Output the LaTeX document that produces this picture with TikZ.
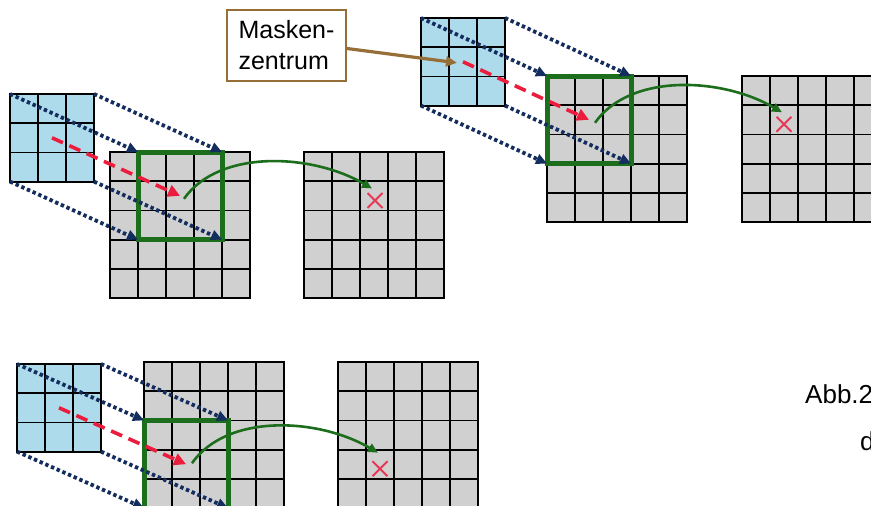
\documentclass[tikz,border=0pt]{standalone}
\usepackage{fontspec}
\newfontfamily\labelfont{Liberation Sans}
\usetikzlibrary{arrows.meta,calc,shapes.misc}

\definecolor{maskblue}{RGB}{173,219,235}
\definecolor{cellgray}{RGB}{208,208,208}
\definecolor{wingreen}{RGB}{28,110,28}
\definecolor{dotnavy}{RGB}{20,45,95}
\definecolor{centerred}{RGB}{236,28,60}
\definecolor{crossred}{RGB}{232,55,85}
\definecolor{labelbrown}{RGB}{150,110,55}

\tikzset{
  gridbox/.style={draw=black, line width=1.8pt, rectangle, inner sep=0pt, outer sep=0pt, anchor=north west},
  gridline/.style={black, line width=1.8pt},
  window/.style={draw=wingreen, line width=5pt, rectangle, inner sep=0pt, outer sep=0pt,
    anchor=north west, minimum width=84pt, minimum height=87.6pt},
  projection/.style={dotnavy, line width=3.8pt, dash pattern=on 3.4pt off 2.8pt,
    -{Triangle[length=11pt,width=10pt]}},
  centerline/.style={centerred, line width=3.6pt, dash pattern=on 12pt off 7pt,
    -{Triangle[length=12pt,width=12pt]}},
  resultarrow/.style={wingreen, line width=2.6pt, -{Triangle[length=10pt,width=9pt]}},
  resultmark/.style={cross out, draw=crossred, line width=2pt, minimum size=13pt, inner sep=0pt},
  labelbox/.style={draw=labelbrown, line width=1.8pt, fill=white, align=left, inner sep=0pt,
    minimum width=119pt, minimum height=71pt, font=\labelfont\fontsize{25}{31}\selectfont},
  pointer/.style={labelbrown, line width=3.2pt, -{Triangle[length=11pt,width=10pt]}},
  caption/.style={font=\labelfont\fontsize{26}{31}\selectfont, anchor=base west, inner sep=0pt},
}

% square grid of n x n cells (28 x 29.2) with its top left corner at (x,y)
\newcommand\drawcellgrid[5]{%
  \node[gridbox, fill=#5, minimum width=#4*28pt, minimum height=#4*29.2pt] (#1) at (#2,#3) {};
  \pgfmathtruncatemacro\innerlast{#4-1}
  \foreach \k in {1,...,\innerlast}{
    \draw[gridline] ($(#1.north west)+(\k*28,0)$) -- ($(#1.south west)+(\k*28,0)$);
    \draw[gridline] ($(#1.north west)+(0,\k*29.2)$) -- ($(#1.north east)+(0,\k*29.2)$);
  }
}

\begin{document}
\begin{tikzpicture}[x=1pt,y=-1pt]
\fill[white] (0,0) rectangle (871,506);
\useasboundingbox (0,0) rectangle (871,506);
\clip (0,0) rectangle (871,506);

% ---- first step: window one column in
\drawcellgrid{k1}{10}{94}{3}{maskblue}
\drawcellgrid{in1}{110}{152}{5}{cellgray}
\drawcellgrid{out1}{304}{152}{5}{cellgray}
\node[window] (w1) at (138,152) {};
\node[resultmark] (x1) at (375,200.5) {};
\coordinate (s1) at ($(w1.center)+(4,3)$);
\coordinate (e1) at ($(x1.center)+(-3,-12)$);
\foreach \c in {north west,north east,south west,south east}
  \draw[projection] (k1.\c) -- (w1.\c);
\draw[centerline] (k1.center) -- (w1.center);
\draw[resultarrow] (s1) .. controls +(35,-50) and +(-60,-35) .. (e1);

% ---- second step: window in the top left corner
\drawcellgrid{k2}{421}{18}{3}{maskblue}
\drawcellgrid{in2}{547}{76}{5}{cellgray}
\drawcellgrid{out2}{742}{76}{5}{cellgray}
\node[window] (w2) at (547,76) {};
\node[resultmark] (x2) at (784,124.3) {};
\coordinate (s2) at ($(w2.center)+(6,3)$);
\coordinate (e2) at ($(x2.center)+(-2,-12)$);
\foreach \c in {north west,north east,south west,south east}
  \draw[projection] (k2.\c) -- (w2.\c);
\draw[centerline] (k2.center) -- (w2.center);
\draw[resultarrow] (s2) .. controls +(35,-50) and +(-60,-35) .. (e2);

% ---- third step: window two rows down
\drawcellgrid{k3}{17}{364}{3}{maskblue}
\drawcellgrid{in3}{144}{362}{5}{cellgray}
\drawcellgrid{out3}{338}{362}{5}{cellgray}
\node[window] (w3) at (144,420.4) {};
\node[resultmark] (x3) at (380,468.7) {};
\coordinate (s3) at ($(w3.center)+(6,-1)$);
\coordinate (e3) at ($(x3.center)+(-2,-16)$);
\foreach \c in {north west,north east,south west,south east}
  \draw[projection] (k3.\c) -- (w3.\c);
\draw[centerline] (k3.center) -- (w3.center);
\draw[resultarrow] (s3) .. controls +(35,-50) and +(-60,-35) .. (e3);

% ---- label for the mask centre
\node[labelbox] (mbox) at (286.5,45.5) {Masken-\\zentrum};
\coordinate (mc) at ($(k2.center)+(-6,1)$);
\draw[pointer] ($(mbox.east)+(0,3)$) -- (mc);

% ---- caption, running off the right edge
\node[caption] (abb) at (805,403) {Abb.2};
\node[caption] (abbd) at (860,450) {d};
\end{tikzpicture}
\end{document}
